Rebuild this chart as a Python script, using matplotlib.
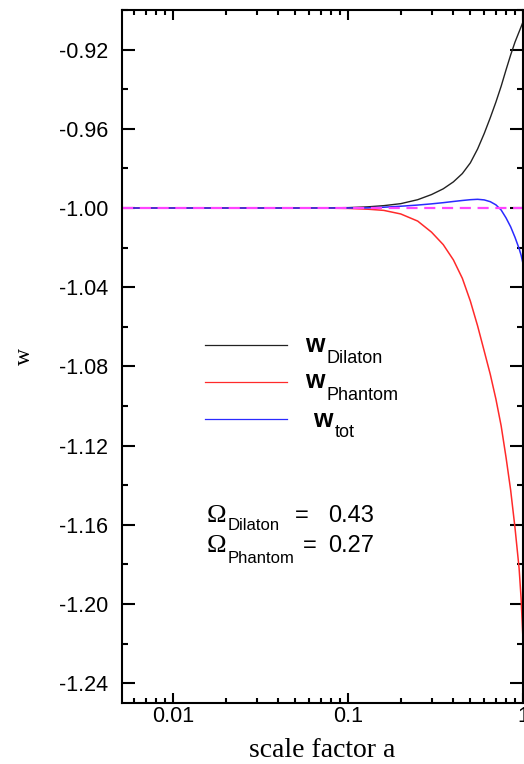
import matplotlib
matplotlib.use("Agg")
import matplotlib.pyplot as plt
from matplotlib.ticker import LogLocator, MultipleLocator, NullFormatter, FixedLocator, FixedFormatter

# scale factor samples
A = [0.005, 0.01, 0.02, 0.05, 0.08, 0.1, 0.13, 0.16, 0.2, 0.25, 0.3, 0.35, 0.4,
     0.45, 0.5, 0.55, 0.6, 0.65, 0.7, 0.75, 0.8, 0.85, 0.9, 0.95, 0.975, 1.0]
W_DILATON = [-1.0, -1.0, -1.0, -1.0, -0.9999, -0.9998, -0.9994, -0.9988, -0.9978,
             -0.9958, -0.9932, -0.9903, -0.9868, -0.9826, -0.9772, -0.9702, -0.9624,
             -0.9544, -0.9465, -0.9385, -0.9302, -0.9227, -0.9162, -0.9110, -0.9085,
             -0.9060]
W_PHANTOM = [-1.0, -1.0, -1.0, -1.0, -1.0001, -1.0002, -1.0006, -1.0012, -1.0030,
             -1.0066, -1.0122, -1.0185, -1.0262, -1.0355, -1.0470, -1.0595, -1.0722,
             -1.0840, -1.0965, -1.1100, -1.1260, -1.1425, -1.1615, -1.1820, -1.1970,
             -1.2180]
W_TOT = [-1.0, -1.0, -1.0, -1.0, -1.0, -1.0, -0.9999, -0.9996, -0.9991,
         -0.9985, -0.9979, -0.9973, -0.9967, -0.9962, -0.9958, -0.9956, -0.9959,
         -0.9968, -0.9984, -1.0010, -1.0050, -1.0095, -1.0148, -1.0205, -1.0238,
         -1.0280]
W_LAMBDA = -1.0

XTICKS = [0.01, 0.1, 1]
XTICKLABELS = ["0.01", "0.1", "1"]
YTICKS = [-1.24, -1.20, -1.16, -1.12, -1.08, -1.04, -1.00, -0.96, -0.92]

OMEGA_DILATON = 0.43
OMEGA_PHANTOM = 0.27

plt.rcParams.update({
    "font.family": "Liberation Sans",
    "axes.unicode_minus": False,
})

fig = plt.figure(figsize=(5.24, 7.64), dpi=100)
ax = fig.add_axes([0.2328, 0.0798, 0.7653, 0.9071])

ax.plot(A, W_DILATON, color="#222222", lw=1.0)
ax.plot(A, W_PHANTOM, color="#ff2a2a", lw=1.1)
ax.plot(A, W_TOT, color="#2a2aff", lw=1.1)
ax.axhline(W_LAMBDA, color="#ff44ff", lw=1.6, ls=(0, (5, 3)))

ax.set_xscale("log")
ax.set_xlim(0.0051, 1.0)
ax.set_ylim(-1.25, -0.90)

ax.xaxis.set_major_locator(FixedLocator(XTICKS))
ax.xaxis.set_major_formatter(FixedFormatter(XTICKLABELS))
ax.xaxis.set_minor_locator(LogLocator(base=10, subs=range(2, 10)))
ax.xaxis.set_minor_formatter(NullFormatter())
ax.yaxis.set_major_locator(FixedLocator(YTICKS))
ax.yaxis.set_major_formatter(FixedFormatter([f"{v:.2f}" for v in YTICKS]))
ax.yaxis.set_minor_locator(MultipleLocator(0.02))

for s in ax.spines.values():
    s.set_linewidth(1.5)
ax.tick_params(axis="both", which="both", direction="in", top=True, right=True,
               width=1.5, labelsize=15.5)
ax.tick_params(axis="y", which="major", length=9.5, pad=10)
ax.tick_params(axis="y", which="minor", length=4.5)
ax.tick_params(axis="x", which="major", length=7, pad=2)
ax.tick_params(axis="x", which="minor", length=3.5)

ax.set_xlabel("scale factor a", family="Liberation Serif", fontsize=20, labelpad=8)
ax.set_ylabel("w", family="Liberation Serif", fontsize=17, labelpad=17)

# hand-drawn legend
tr = ax.transAxes
LEG = [("#222222", 0.5166, 0.456, 0.5065, "Dilaton", 0.511, 0.4906),
       ("#ff2a2a", 0.4632, 0.456, 0.4545, "Phantom", 0.511, 0.4372),
       ("#2a2aff", 0.4098, 0.476, 0.3980, "tot", 0.531, 0.3838)]
for col, ly, wx, wy, sub, sx, sy in LEG:
    ax.plot([0.207, 0.411], [ly, ly], color=col, lw=0.9, transform=tr)
    ax.text(wx, wy, "w", transform=tr, fontsize=18, fontweight="bold", va="baseline")
    ax.text(sx, sy, sub, transform=tr, fontsize=13, va="baseline")

# density parameters
ax.text(0.212, 0.2612, "\u03a9", transform=tr, family="Liberation Serif", fontsize=19, va="baseline")
ax.text(0.264, 0.2496, "Dilaton", transform=tr, fontsize=12, va="baseline")
ax.text(0.431, 0.2612, "=", transform=tr, fontsize=17, va="baseline")
ax.text(0.5137, 0.2612, f"{OMEGA_DILATON:.2f}", transform=tr, fontsize=17, va="baseline")
ax.text(0.212, 0.2179, "\u03a9", transform=tr, family="Liberation Serif", fontsize=19, va="baseline")
ax.text(0.264, 0.2020, "Phantom", transform=tr, fontsize=12, va="baseline")
ax.text(0.451, 0.2179, "=", transform=tr, fontsize=17, va="baseline")
ax.text(0.5137, 0.2179, f"{OMEGA_PHANTOM:.2f}", transform=tr, fontsize=17, va="baseline")

fig.savefig("out.png", dpi=100)
